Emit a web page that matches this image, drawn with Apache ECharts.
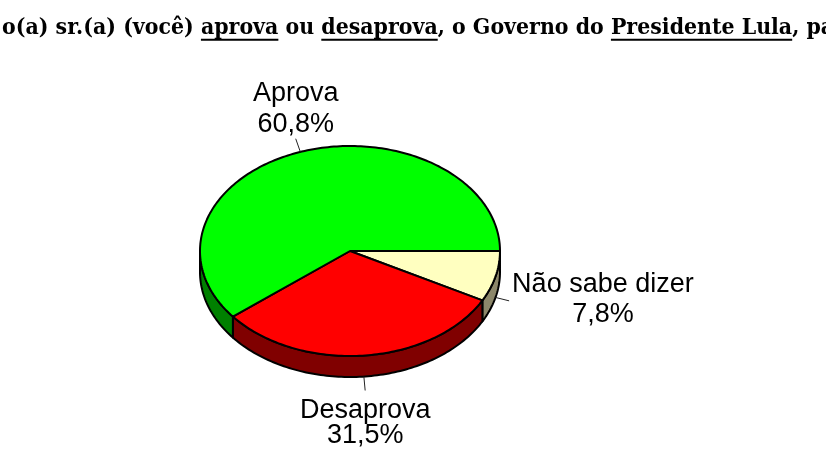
<!DOCTYPE html>
<html>
<head>
<meta charset="utf-8">
<script src="https://cdn.jsdelivr.net/npm/echarts@6/dist/echarts.min.js"></script>
<style>
    html, body { margin: 0; padding: 0; background: #fff; }
    #chart { width: 826px; height: 463px; }
</style>
</head>
<body>
<div id="chart"></div>
<script>
// 数据
var categories = ['Não sabe dizer', 'Desaprova', 'Aprova'];
var values = [7.8, 31.5, 60.8];
var valueLabels = ['7,8%', '31,5%', '60,8%'];
var topColors = ['#FFFFC0', '#FF0000', '#00FF00'];
var sideColors = ['#8C876A', '#800000', '#008000'];
// 标题（被截断），带下划线的片段
var titleParts = ['o(a) sr.(a) (você) ', 'aprova', ' ou ', 'desaprova', ', o Governo do ', 'Presidente Lula', ', para'];
var titleUnderline = [false, true, false, true, false, true, false];

// 椭圆饼的布局
var cx = 350, cy = 251, rx = 150, ry = 105, depth = 21;
var labelLineHeight = [30, 25, 31];

var total = values.reduce(function(a, b) { return a + b; }, 0);
var pieData = [];
var acc = 0;
for (var i = 0; i < values.length; i++) {
    var a0 = acc / total * Math.PI * 2;
    acc += values[i];
    var a1 = acc / total * Math.PI * 2;
    pieData.push({ name: categories[i], value: [i, values[i], a0, a1] });
}

function pt(a, dy) {
    return [cx + rx * Math.cos(a), cy + ry * Math.sin(a) + (dy || 0)];
}
function arc(a0, a1, dy) {
    var n = Math.max(2, Math.ceil(Math.abs(a1 - a0) / 0.02));
    var pts = [];
    for (var k = 0; k <= n; k++) {
        pts.push(pt(a0 + (a1 - a0) * k / n, dy));
    }
    return pts;
}

var ctx = document.createElement('canvas').getContext('2d');
function measure(text, font) {
    ctx.font = font;
    return ctx.measureText(text).width;
}

// 侧面
function renderSide(params, api) {
    var idx = api.value(0);
    var s = Math.max(api.value(2), 0);
    var e = Math.min(api.value(3), Math.PI);
    if (e <= s) return null;
    var pts = arc(s, e, 0).concat(arc(e, s, depth));
    return {
        type: 'polygon',
        shape: { points: pts },
        style: { fill: sideColors[idx], stroke: '#000', lineWidth: 2, lineJoin: 'round' }
    };
}
// 顶面
function renderTop(params, api) {
    var idx = api.value(0);
    var pts = [[cx, cy]].concat(arc(api.value(2), api.value(3), 0));
    return {
        type: 'polygon',
        shape: { points: pts },
        style: { fill: topColors[idx], stroke: '#000', lineWidth: 2, lineJoin: 'round' }
    };
}
// 标签和引导线
function renderLabel(params, api) {
    var idx = api.value(0);
    var mid = (api.value(2) + api.value(3)) / 2;
    var c = Math.cos(mid), s = Math.sin(mid);
    var p = pt(mid, s > 0 ? depth : 0);
    var q = [p[0] + c * 14, p[1] + s * 14];
    var style = {
        text: categories[idx] + '\n' + valueLabels[idx],
        fill: '#000',
        fontSize: 27,
        fontFamily: 'Liberation Sans, Arial, sans-serif',
        lineHeight: labelLineHeight[idx],
        align: 'center'
    };
    if (Math.abs(c) > 0.7) {
        // 左右两侧：块贴着引导线，两行居中
        var w = measure(categories[idx], '27px "Liberation Sans"');
        style.x = q[0] + (c > 0 ? 1 : -1) * (3 + w / 2);
        style.y = q[1] - 1;
        style.verticalAlign = 'middle';
    } else {
        style.x = q[0];
        style.y = q[1] + (s > 0 ? 8 : 1);
        style.verticalAlign = s > 0 ? 'top' : 'bottom';
    }
    return {
        type: 'group',
        children: [{
            type: 'line',
            shape: { x1: p[0], y1: p[1], x2: q[0], y2: q[1] },
            style: { stroke: '#222', lineWidth: 1 }
        }, {
            type: 'text',
            style: style
        }]
    };
}

// 标题文字与下划线
var titleSize = 23, titleScaleX = 0.893;
var titleFont = 'bold ' + titleSize + 'px "DejaVu Serif"';
var titleGraphics = [];
var tx = 2;
for (var j = 0; j < titleParts.length; j++) {
    var w = measure(titleParts[j], titleFont) * titleScaleX;
    titleGraphics.push({
        type: 'text',
        x: tx, y: 16.5,
        scaleX: titleScaleX,
        style: { text: titleParts[j], fill: '#000', font: titleFont }
    });
    if (titleUnderline[j]) {
        titleGraphics.push({
            type: 'line',
            shape: { x1: tx, y1: 39.7, x2: tx + w, y2: 39.7 },
            style: { stroke: '#000', lineWidth: 2 }
        });
    }
    tx += w;
}

var myChart = echarts.init(document.getElementById('chart'));
var option = {
    animation: false,
    graphic: titleGraphics,
    series: [{
        type: 'custom',
        coordinateSystem: 'none',
        z: 1,
        renderItem: renderSide,
        data: pieData
    }, {
        type: 'custom',
        coordinateSystem: 'none',
        z: 2,
        renderItem: renderTop,
        data: pieData
    }, {
        type: 'custom',
        coordinateSystem: 'none',
        z: 3,
        renderItem: renderLabel,
        data: pieData
    }]
};
myChart.setOption(option);
</script>
</body>
</html>
